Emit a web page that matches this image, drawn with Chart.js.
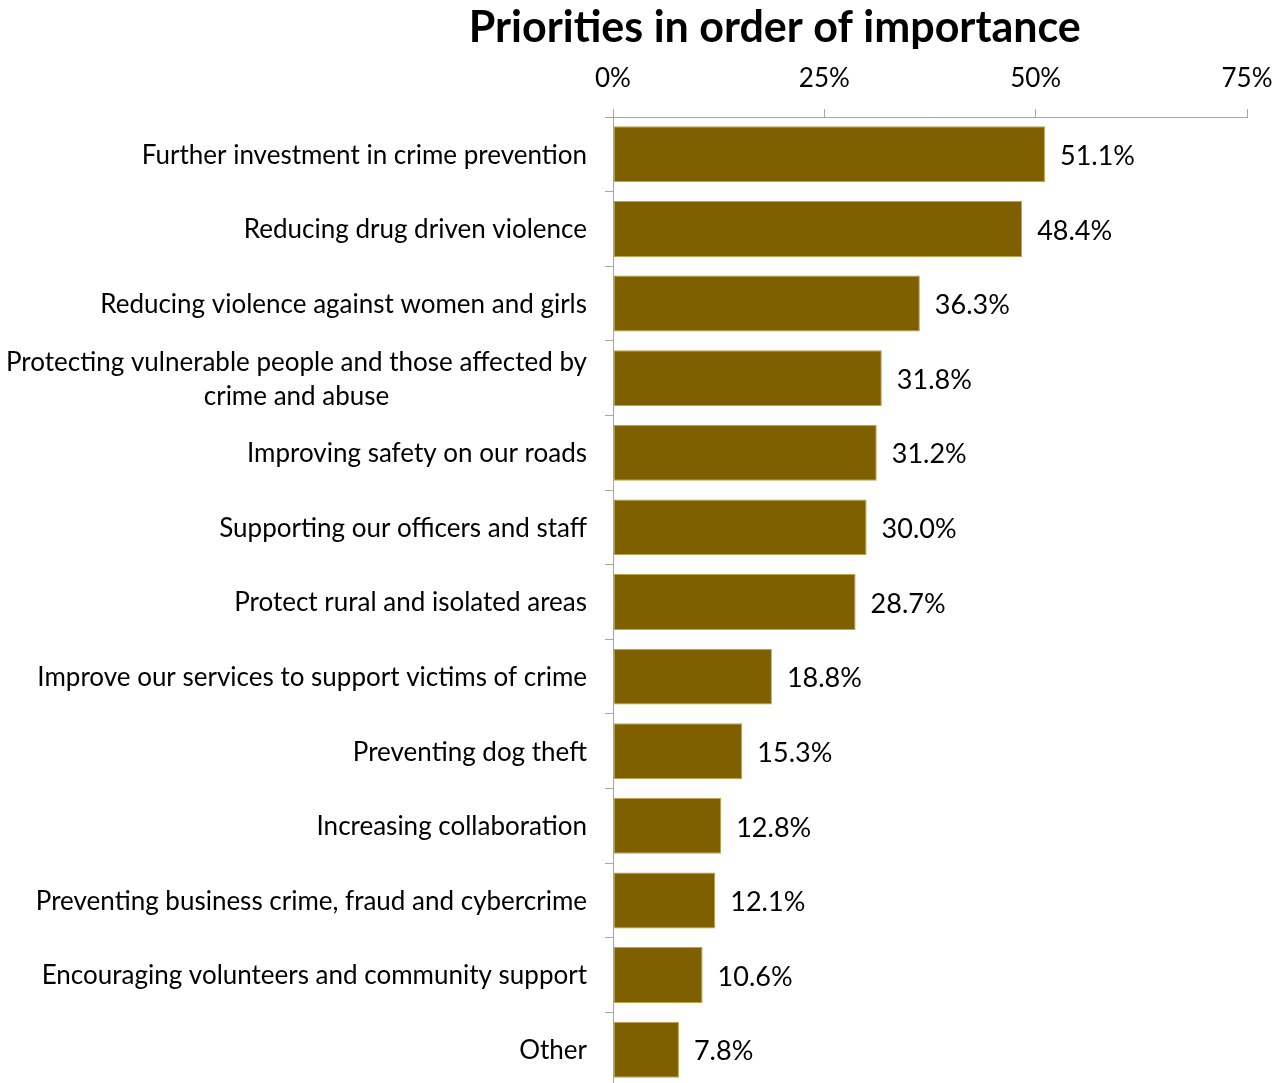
<!DOCTYPE html>
<html>
<head>
<meta charset="utf-8">
<script src="https://cdn.jsdelivr.net/npm/chart.js@4.4.1/dist/chart.umd.min.js"></script>
<style>
  html, body { margin: 0; padding: 0; background: #ffffff; overflow: hidden; }
  canvas { display: block; }
</style>
</head>
<body>
<canvas id="chart" width="1287" height="1087"></canvas>
<script>
const chartTitle = 'Priorities in order of importance';

const categories = [
  ['Further investment in crime prevention'],
  ['Reducing drug driven violence'],
  ['Reducing violence against women and girls'],
  ['Protecting vulnerable people and those affected by', 'crime and abuse'],
  ['Improving safety on our roads'],
  ['Supporting our officers and staff'],
  ['Protect rural and isolated areas'],
  ['Improve our services to support victims of crime'],
  ['Preventing dog theft'],
  ['Increasing collaboration'],
  ['Preventing business crime, fraud and cybercrime'],
  ['Encouraging volunteers and community support'],
  ['Other']
];

const shares = [51.1, 48.4, 36.3, 31.8, 31.2, 30.0, 28.7, 18.8, 15.3, 12.8, 12.1, 10.6, 7.8];

const axisTicks = [0, 25, 50, 75];

const FONT = 'Lato, "Open Sans", sans-serif';
const TEXT_SIZE = 26;
const VALUE_SIZE = 27;
const AXIS_GREY = '#A6A6A6';
const BAR_FILL = '#7F6000';

// Category labels: right-aligned blocks, lines centred within each block
const categoryLabels = {
  id: 'categoryLabels',
  afterDraw(chart) {
    const ctx = chart.ctx;
    const y = chart.scales.y;
    const right = chart.chartArea.left - 26;
    const lineH = 34;
    ctx.save();
    ctx.font = TEXT_SIZE + 'px ' + FONT;
    ctx.fillStyle = '#000000';
    ctx.textBaseline = 'middle';
    ctx.textAlign = 'center';
    categories.forEach((lines, i) => {
      const cy = y.getPixelForValue(i) + 1;
      const w = Math.max(...lines.map(l => ctx.measureText(l).width));
      const cx = right - w / 2;
      const top = cy - (lines.length - 1) * lineH / 2;
      lines.forEach((l, k) => ctx.fillText(l, cx, top + k * lineH));
    });
    ctx.restore();
  }
};

// Value labels to the right of each bar
const valueLabels = {
  id: 'valueLabels',
  afterDatasetsDraw(chart) {
    const ctx = chart.ctx;
    const meta = chart.getDatasetMeta(0);
    ctx.save();
    ctx.font = VALUE_SIZE + 'px ' + FONT;
    ctx.fillStyle = '#000000';
    ctx.textBaseline = 'middle';
    ctx.textAlign = 'left';
    meta.data.forEach((bar, i) => {
      ctx.fillText(shares[i].toFixed(1) + '%', bar.x + 15, bar.y + 2);
    });
    ctx.restore();
  }
};

// Heading, placed over the plot
const heading = {
  id: 'heading',
  afterDraw(chart) {
    const ctx = chart.ctx;
    ctx.save();
    ctx.font = 'bold 43px ' + FONT;
    ctx.fillStyle = '#000000';
    ctx.textAlign = 'center';
    ctx.textBaseline = 'middle';
    ctx.fillText(chartTitle, chart.width * 0.602, 28);
    ctx.restore();
  }
};

new Chart(document.getElementById('chart'), {
  type: 'bar',
  data: {
    labels: categories.map(c => c.join(' ')),
    datasets: [{
      data: shares,
      backgroundColor: BAR_FILL,
      borderColor: '#BFA24A',
      borderWidth: 1,
      borderSkipped: false,
      barPercentage: 0.75,
      categoryPercentage: 1.0
    }]
  },
  options: {
    indexAxis: 'y',
    responsive: false,
    animation: false,
    layout: { padding: { top: 0, right: 40, bottom: 0, left: 0 } },
    plugins: {
      legend: { display: false },
      tooltip: { enabled: false },
      title: { display: false }
    },
    scales: {
      x: {
        position: 'top',
        min: 0,
        max: 75,
        afterBuildTicks(scale) {
          scale.ticks = axisTicks.map(v => ({ value: v }));
        },
        afterFit(scale) {
          scale.height = 117;
          scale.paddingLeft = 0;
          scale.paddingRight = 0;
        },
        border: { display: true, color: AXIS_GREY, width: 1 },
        grid: {
          display: true,
          drawOnChartArea: false,
          drawTicks: true,
          tickLength: 8,
          color: AXIS_GREY
        },
        ticks: {
          color: '#000000',
          font: { family: FONT, size: TEXT_SIZE },
          padding: 15,
          maxRotation: 0,
          callback: v => v + '%'
        }
      },
      y: {
        afterFit(scale) {
          scale.width = 613;
          scale.paddingTop = 0;
          scale.paddingBottom = 0;
        },
        border: { display: true, color: AXIS_GREY, width: 1 },
        grid: {
          display: true,
          offset: true,
          drawOnChartArea: false,
          drawTicks: true,
          tickLength: 8,
          color: AXIS_GREY
        },
        ticks: {
          color: 'rgba(0,0,0,0)',
          font: { family: FONT, size: TEXT_SIZE }
        }
      }
    }
  },
  plugins: [categoryLabels, valueLabels, heading]
});
</script>
</body>
</html>
